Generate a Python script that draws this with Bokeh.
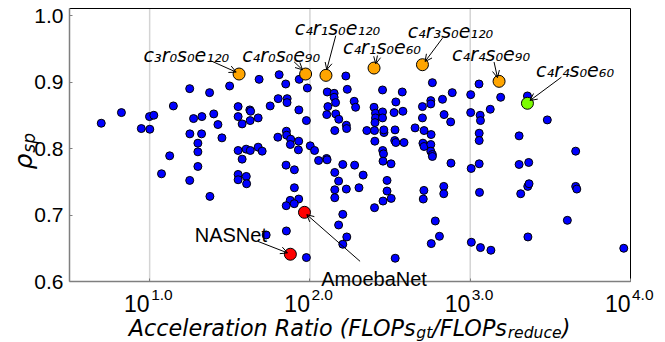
from bokeh.plotting import figure
from bokeh.models import Range1d, FixedTicker, PrintfTickFormatter, Label, Arrow, OpenHead
from bokeh.embed import file_html
from bokeh.resources import INLINE
import math

# ---------------- data ----------------
# x values are given as log10(acceleration ratio)
log10_accel_ratio = [
    0.698, 0.824, 0.948, 1.001, 0.999, 1.026, 1.148, 1.250, 1.374, 1.499,
    1.274, 1.326, 1.400, 1.426, 1.451, 1.251, 1.324, 1.301, 1.301, 1.301,
    1.125, 1.074, 1.552, 1.552, 1.577, 1.625, 1.630, 1.627, 1.677, 1.683,
    1.752, 1.808, 1.849, 1.802, 1.858, 1.857, 1.933, 1.984, 1.931, 1.978,
    1.800, 1.853, 1.855, 1.880, 1.878, 1.930, 1.928, 1.552, 1.602, 1.628,
    1.677, 1.702, 1.577, 1.851, 1.903, 2.002, 2.029, 2.054, 2.104, 2.107,
    2.108, 2.112, 2.105, 2.224, 2.233, 2.151, 2.151, 2.160, 2.276, 2.285,
    2.453, 2.576, 2.536, 2.400, 2.409, 2.409, 2.406, 2.453, 2.453, 2.525,
    2.580, 2.161, 2.180, 2.764, 2.754, 2.754, 2.702, 2.702, 2.827, 2.888,
    2.837, 2.878, 3.055, 3.003, 3.003, 3.062, 3.064, 3.125, 3.190, 3.481,
    3.305, 3.658, 3.056, 3.056, 3.006, 3.056, 3.305, 3.365, 2.355, 2.403,
    2.405, 2.155, 2.227, 2.229, 2.462, 2.461, 2.531, 2.529, 2.536, 2.587,
    2.656, 2.712, 2.756, 2.705, 2.712, 2.754, 2.754, 2.764, 2.764, 2.454,
    2.459, 2.456, 2.506, 2.205, 2.279, 2.880, 1.250, 1.376, 1.552, 1.603,
    1.552, 1.605, 1.903, 1.877, 1.930, 1.852, 1.902, 1.727, 1.853, 1.978,
    2.155, 2.179, 2.155, 2.155, 2.227, 2.205, 2.179, 2.230, 2.205, 2.306,
    2.332, 2.481, 2.481, 2.507, 2.456, 2.403, 2.711, 2.707, 2.835, 2.835,
    2.782, 2.808, 2.757, 2.532, 3.058, 3.007, 3.064, 3.129, 3.315, 3.359,
    3.367, 3.360, 3.606, 3.658, 3.665, 3.958, 3.357,
]
rho_sp = [
    0.838, 0.854, 0.830, 0.829, 0.848, 0.850, 0.864, 0.890, 0.884, 0.894,
    0.845, 0.848, 0.852, 0.836, 0.816, 0.822, 0.822, 0.808, 0.795, 0.773,
    0.789, 0.762, 0.863, 0.848, 0.837, 0.858, 0.856, 0.842, 0.846, 0.904,
    0.864, 0.911, 0.897, 0.875, 0.875, 0.869, 0.904, 0.891, 0.858, 0.842,
    0.817, 0.826, 0.820, 0.814, 0.806, 0.811, 0.798, 0.797, 0.799, 0.797,
    0.802, 0.796, 0.784, 0.775, 0.768, 0.804, 0.797, 0.782, 0.785, 0.783,
    0.885, 0.863, 0.851, 0.909, 0.889, 0.883, 0.877, 0.869, 0.871, 0.862,
    0.888, 0.885, 0.870, 0.862, 0.853, 0.846, 0.839, 0.855, 0.846, 0.854,
    0.856, 0.852, 0.844, 0.899, 0.872, 0.867, 0.863, 0.846, 0.874, 0.884,
    0.851, 0.840, 0.897, 0.881, 0.854, 0.850, 0.842, 0.859, 0.877, 0.843,
    0.819, 0.796, 0.823, 0.812, 0.770, 0.777, 0.776, 0.779, 0.827, 0.827,
    0.811, 0.827, 0.835, 0.830, 0.824, 0.828, 0.828, 0.812, 0.809, 0.809,
    0.831, 0.827, 0.821, 0.808, 0.803, 0.806, 0.796, 0.791, 0.788, 0.797,
    0.792, 0.781, 0.777, 0.776, 0.775, 0.778, 0.752, 0.728, 0.761, 0.758,
    0.753, 0.747, 0.741, 0.722, 0.724, 0.714, 0.717, 0.670, 0.676, 0.636,
    0.764, 0.751, 0.738, 0.726, 0.739, 0.701, 0.685, 0.667, 0.656, 0.741,
    0.760, 0.752, 0.736, 0.725, 0.721, 0.711, 0.737, 0.724, 0.743, 0.732,
    0.691, 0.668, 0.657, 0.635, 0.734, 0.659, 0.651, 0.647, 0.732, 0.743,
    0.747, 0.667, 0.692, 0.743, 0.739, 0.650, 0.879,
]

orange_labels = ["c₃r₀s₀e₁₂₀", "c₄r₀s₀e₉₀", "c₄r₁s₀e₁₂₀", "c₄r₁s₀e₆₀", "c₄r₃s₀e₁₂₀", "c₄r₄s₀e₉₀"]
orange_log10_ratio = [1.558, 1.973, 2.100, 2.400, 2.702, 3.180]
orange_rho = [0.912, 0.912, 0.910, 0.921, 0.926, 0.901]

green_labels = ["c₄r₄s₀e₆₀"]
green_log10_ratio = [3.357]
green_rho = [0.868]

red_labels = ["NASNet", "AmoebaNet"]
red_log10_ratio = [1.878, 1.966]
red_rho = [0.641, 0.704]

y_ticks = [0.6, 0.7, 0.8, 0.9, 1.0]
x_ticks = [10, 100, 1000, 10000]
x_tick_exponents = ["1.0", "2.0", "3.0", "4.0"]

# ---------------- layout ----------------
W, H = 665, 342
BOX_L, BOX_R, BOX_T, BOX_B = 69, 630, 8, 281          # visible axes box, canvas px
X_LOG0, X_LOG1 = 0.5, 4.0                              # box extent (log10)
Y0 = 0.6
PX_PER_DEC = (BOX_R - BOX_L) / (X_LOG1 - X_LOG0)
PX_PER_UNIT = 665.0
Y1 = Y0 + (BOX_B - BOX_T) / PX_PER_UNIT
XB0, XB1 = 10 ** X_LOG0, 10 ** X_LOG1

# the plotting frame spans the whole canvas so that nothing is clipped
xr = Range1d(10 ** (X_LOG0 - BOX_L / PX_PER_DEC), 10 ** (X_LOG1 + (W - BOX_R) / PX_PER_DEC))
yr = Range1d(Y0 - (H - BOX_B) / PX_PER_UNIT, Y1 + BOX_T / PX_PER_UNIT)


def shift(xv, yv, dx, dy):
    """move a data point by dx px right and dy px down"""
    return xv * 10 ** (dx / PX_PER_DEC), yv - dy / PX_PER_UNIT


accel_ratio = [10 ** v for v in log10_accel_ratio]
orange_ratio = [10 ** v for v in orange_log10_ratio]
green_ratio = [10 ** v for v in green_log10_ratio]
red_ratio = [10 ** v for v in red_log10_ratio]

p = figure(width=W, height=H, x_axis_type="log", x_range=xr, y_range=yr,
           output_backend="svg", toolbar_location=None,
           min_border_left=0, min_border_right=0, min_border_top=0, min_border_bottom=0)
p.title.visible = False
p.background_fill_color = "white"
p.border_fill_color = "white"
p.outline_line_color = None
p.xgrid.visible = False
p.ygrid.visible = False

# axes drawn at the box edges
p.xaxis.fixed_location = Y0
p.yaxis.fixed_location = XB0
p.xaxis.bounds = (XB0, XB1)
p.yaxis.bounds = (Y0, Y1)
p.xaxis.ticker = FixedTicker(ticks=x_ticks)
p.xaxis.major_label_overrides = {t: "" for t in x_ticks}
p.yaxis.ticker = FixedTicker(ticks=y_ticks)
p.yaxis.formatter = PrintfTickFormatter(format="%.1f")
for ax in (p.xaxis, p.yaxis):
    ax.axis_line_color = "#7f7f7f"
    ax.axis_line_width = 1.5
    ax.major_tick_in = 3
    ax.major_tick_out = 0
    ax.major_tick_line_color = "#7f7f7f"
    ax.minor_tick_line_color = None
p.yaxis.major_label_text_font = "Liberation Sans"
p.yaxis.major_label_text_font_size = "21px"
p.yaxis.major_label_text_color = "black"
p.yaxis.major_label_standoff = 6

# vertical grid lines at the decades, top and right border of the box
p.segment(x0=x_ticks[:-1], y0=[Y0] * 3, x1=x_ticks[:-1], y1=[Y1] * 3,
          line_color="#d4d4d4", line_width=1.5)
p.line(x=[XB0, XB1, XB1], y=[Y1, Y1, Y0], line_color="black", line_width=1)

p.scatter(accel_ratio, rho_sp, size=8, fill_color="#0000ff", line_color="black", line_width=1)
p.scatter(orange_ratio, orange_rho, size=12, fill_color="#ffa500", line_color="black", line_width=1)
p.scatter(green_ratio, green_rho, size=12, fill_color="#7cfc00", line_color="black", line_width=1)
p.scatter(red_ratio, red_rho, size=12, fill_color="#ff0000", line_color="black", line_width=1)

# annotation layout: text dx, baseline dy, arrow start (dx, dy), arrow end (dx, dy) in px
orange_layout = [
    (-52.7, -19.2, (-28.2, -13.2), (-2.9, -1.9)),
    (-24.5, -19.2, (-11.5, -12.2), (-3.1, -4.2)),
    (11.5, -47.7, (9.8, -39.7), (0.8, -5.7)),
    (7.9, -20.8, (3.4, -12.5), (1.7, -4.2)),
    (28.0, -34.2, (20.0, -26.5), (2.6, -3.2)),
    (-8.0, -27.7, (-5.0, -19.3), (-1.6, -3.7)),
]
green_layout = [(47.6, -32.8, (34.0, -26.1), (2.6, -2.8))]
red_layout = [
    (-59.5, -19.0, (-32.8, -13.0), (-2.8, -1.3)),
    (69.6, 66.3, (55.6, 49.0), (2.3, 2.3)),
]


def annotate(labels, xs, ys, layout, font, style, size):
    for txt, xv, yv, (tdx, tdy, st, en) in zip(labels, xs, ys, layout):
        p.add_layout(Label(x=xv, y=yv, x_offset=tdx, y_offset=-tdy, text=txt,
                           text_align="center", text_baseline="alphabetic",
                           text_font=font, text_font_style=style,
                           text_font_size=size, text_color="black"))
        xs0, ys0 = shift(xv, yv, *st)
        xe0, ye0 = shift(xv, yv, *en)
        p.add_layout(Arrow(x_start=xs0, y_start=ys0, x_end=xe0, y_end=ye0,
                           line_color="black", line_width=1,
                           end=OpenHead(size=7, line_color="black", line_width=1)))


annotate(orange_labels, orange_ratio, orange_rho, orange_layout, "DejaVu Sans", "italic", "19px")
annotate(green_labels, green_ratio, green_rho, green_layout, "DejaVu Sans", "italic", "19px")
annotate(red_labels, red_ratio, red_rho, red_layout, "Liberation Sans", "normal", "20px")

# x tick labels 10^{k}
for t, e in zip(x_ticks, x_tick_exponents):
    p.add_layout(Label(x=t, y=Y0, text="10", text_align="right", text_baseline="alphabetic",
                       x_offset=0, y_offset=-21.7, text_font="Liberation Sans",
                       text_font_size="23px", text_color="black"))
    p.add_layout(Label(x=t, y=Y0, text=e, text_align="left", text_baseline="alphabetic",
                       x_offset=1.5, y_offset=-13.5, text_font="Liberation Sans",
                       text_font_size="15.5px", text_color="black"))

# x axis label with subscripts
EM = {'A': .684, 'c': .550, 'e': .615, 'l': .278, 'r': .411, 'a': .613, 't': .392,
      'i': .278, 'o': .612, 'n': .634, ' ': .318, 'R': .695, '(': .390, ')': .390,
      'F': .575, 'L': .557, 'O': .787, 'P': .603, 's': .521, 'g': .635, '/': .337,
      'd': .635, 'u': .634, 'p': .635, 'ρ': .635}


def width(s, size):
    return sum(EM.get(ch, 0.6) for ch in s) * size


MAIN, SUB = 22.3, 15.6
xlabel_parts = [("Acceleration Ratio (FLOPs", False), ("gt", True), ("/FLOPs", False),
                ("reduce", True), (")", False)]
cx = 128.3 - BOX_L
for s, sub in xlabel_parts:
    fs = SUB if sub else MAIN
    p.add_layout(Label(x=XB0, y=Y0, text=s, text_align="left", text_baseline="alphabetic",
                       x_offset=cx, y_offset=-46.7 - (4.5 if sub else 0),
                       text_font="DejaVu Sans", text_font_style="italic",
                       text_font_size=f"{fs}px", text_color="black"))
    cx += width(s, fs)

# y axis label rho_sp (rotated)
RHO = 25
p.add_layout(Label(x=XB0, y=Y0, text="ρ", angle=math.pi / 2, text_align="left",
                   text_baseline="alphabetic", x_offset=-46, y_offset=112,
                   text_font="DejaVu Sans", text_font_style="italic",
                   text_font_size=f"{RHO}px", text_color="black"))
p.add_layout(Label(x=XB0, y=Y0, text="sp", angle=math.pi / 2, text_align="left",
                   text_baseline="alphabetic", x_offset=-41, y_offset=112 + width("ρ", RHO) + 1,
                   text_font="DejaVu Sans", text_font_style="italic",
                   text_font_size="17px", text_color="black"))

open("out.html", "w").write(file_html(p, INLINE))
